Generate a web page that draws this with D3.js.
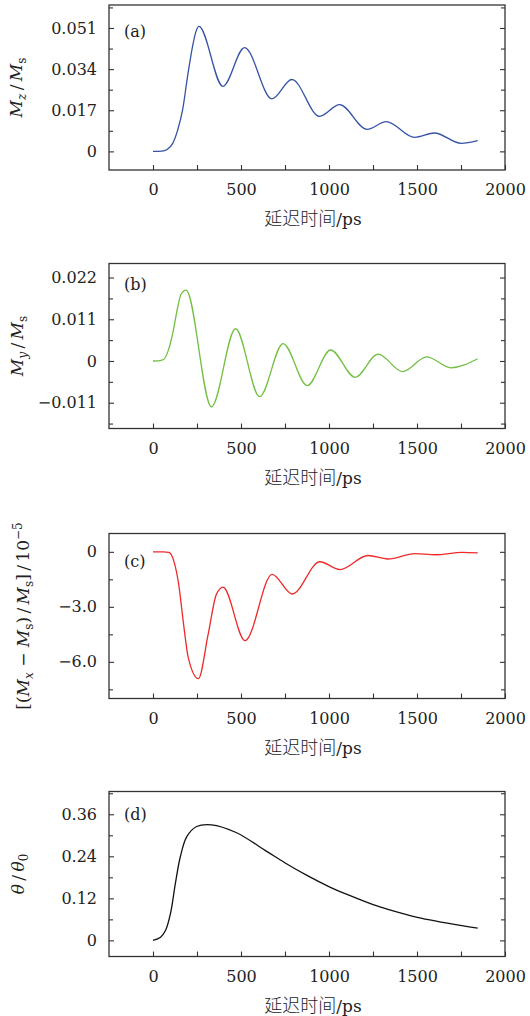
<!DOCTYPE html>
<html>
<head>
<meta charset="utf-8">
<script src="https://cdn.jsdelivr.net/npm/d3@7"></script>
<style>
  body { margin: 0; background: #fff; }
  svg text { fill: #222; }
</style>
</head>
<body>
<div id="chart"></div>
<script>
// shared time axis, ps
const xTickValues = [0, 250, 500, 750, 1000, 1250, 1500, 1750, 2000];

// (a) Mz/Ms
const timeA = [0, 50, 80, 112, 140, 168, 196, 224, 243, 261, 397, 520, 676, 789, 946, 1060, 1217, 1325, 1486, 1599, 1751, 1845];
const valueA = [0, 0.0001, 0.0008, 0.0033, 0.0088, 0.017, 0.0308, 0.0431, 0.0493, 0.0517, 0.0269, 0.0429, 0.0217, 0.0297, 0.0145, 0.0193, 0.0091, 0.0123, 0.0058, 0.0076, 0.0033, 0.0044];
const yTicksA = [0, 0.017, 0.034, 0.051];
const yLabelsA = ["0", "0.017", "0.034", "0.051"];

// (b) My/Ms
const timeB = [0, 30, 60, 84, 112, 141, 159, 188, 332, 469, 606, 739, 876, 1009, 1149, 1279, 1418, 1555, 1693, 1845];
const valueB = [0, 0.00005, 0.0004, 0.0024, 0.0073, 0.0143, 0.0176, 0.0187, -0.0121, 0.0085, -0.0094, 0.0046, -0.0065, 0.0029, -0.0043, 0.0018, -0.0028, 0.0011, -0.0018, 0.0006];
const yTicksB = [-0.011, 0, 0.011, 0.022];
const yLabelsB = ["\u22120.011", "0", "0.011", "0.022"];

// (c) (Mx - Ms)/Ms, units of 1e-5
const timeC = [0, 60, 90, 118, 146, 174, 201, 258, 313, 360, 398, 523, 677, 791, 948, 1063, 1221, 1335, 1488, 1604, 1756, 1845];
const valueC = [0, 0, -0.03, -0.49, -1.77, -3.97, -5.8, -6.92, -4.52, -2.32, -1.92, -4.84, -1.23, -2.3, -0.54, -0.97, -0.2, -0.39, -0.1, -0.16, -0.03, -0.06];
const yTicksC = [-6, -3, 0];
const yLabelsC = ["\u22126.0", "\u22123.0", "0"];

// (d) theta/theta0
const timeD = [0, 43, 71, 99, 127, 155, 192, 248, 332, 472, 646, 751, 880, 1002, 1113, 1251, 1340, 1502, 1755, 1845];
const valueD = [0, 0.009, 0.028, 0.076, 0.162, 0.238, 0.296, 0.325, 0.330, 0.308, 0.254, 0.221, 0.184, 0.153, 0.129, 0.102, 0.088, 0.066, 0.042, 0.035];
const yTicksD = [0, 0.12, 0.24, 0.36];
const yLabelsD = ["0", "0.12", "0.24", "0.36"];

const xTitle = "延迟时间";

const W = 530, H = 1016;
const left = 109, right = 505, ph = 165;
const serif = "'DejaVu Serif', serif";

const svg = d3.select("#chart").append("svg")
    .attr("width", W).attr("height", H);

const x = d3.scaleLinear().domain([-250, 2000]).range([left, right]);

const panels = [
    {tag: "(a)", t: timeA, v: valueA, ticks: yTicksA, labels: yLabelsA, minor: 0.0085,
     domain: [-0.0077, 0.0605], top: 5, color: "#3552a6", tagY: 37, labX: 22, curve: d3.curveMonotoneX,
     ylab: [["M", "i"], ["z", "isub"], ["\u2009/\u2009", ""], ["M", "i"], ["s", "sub"]]},
    {tag: "(b)", t: timeB, v: valueB, ticks: yTicksB, labels: yLabelsB, minor: 0.0055,
     domain: [-0.0178, 0.0257], top: 263.5, color: "#72c043", tagY: 290, labX: 23, curve: d3.curveMonotoneX,
     ylab: [["M", "i"], ["y", "isub"], ["\u2009/\u2009", ""], ["M", "i"], ["s", "sub"]]},
    {tag: "(c)", t: timeC, v: valueC, ticks: yTicksC, labels: yLabelsC, minor: 1.5,
     domain: [-8, 1], top: 533.5, color: "#ee2a2a", tagY: 567, labX: 29, curve: d3.curveMonotoneX,
     ylab: [["[(", ""], ["M", "i"], ["x", "isub"], [" \u2212 ", ""], ["M", "i"], ["s", "sub"],
            [")\u2009/\u2009", ""], ["M", "i"], ["s", "sub"], ["]\u2009/\u200910", ""], ["\u22125", "sup"]]},
    {tag: "(d)", t: timeD, v: valueD, ticks: yTicksD, labels: yLabelsD, minor: 0.06,
     domain: [-0.046, 0.425], top: 791.5, color: "#111", tagY: 819.5, labX: 24, curve: d3.curveCatmullRom.alpha(0.5),
     ylab: [["\u03b8", "i"], ["\u2009/\u2009", ""], ["\u03b8", "i"], ["0", "sub"]]}
];

panels.forEach(drawPanel);

function drawPanel(p) {
    const bottom = p.top + ph;
    const y = d3.scaleLinear().domain(p.domain).range([bottom, p.top]);
    const g = svg.append("g");

    // minor y ticks (half steps)
    const minors = d3.range(Math.ceil(p.domain[0] / p.minor), Math.floor(p.domain[1] / p.minor) + 1)
        .map(k => k * p.minor)
        .filter(d => !p.ticks.some(t => Math.abs(t - d) < p.minor / 10));

    g.append("g").attr("transform", `translate(${left},0)`)
        .call(d3.axisLeft(y).tickValues(p.ticks).tickSize(-5).tickPadding(12).tickFormat((d, i) => p.labels[i]));
    g.append("g").attr("transform", `translate(${left},0)`)
        .call(d3.axisLeft(y).tickValues(minors).tickSize(-4).tickFormat(""));
    g.append("g").attr("transform", `translate(${right},0)`)
        .call(d3.axisRight(y).tickValues(p.ticks).tickSize(-5).tickFormat(""));
    g.append("g").attr("transform", `translate(${right},0)`)
        .call(d3.axisRight(y).tickValues(minors).tickSize(-4).tickFormat(""));
    g.append("g").attr("transform", `translate(0,${bottom})`)
        .call(d3.axisBottom(x).tickValues(xTickValues).tickSize(-5).tickPadding(14)
            .tickFormat(d => d % 500 === 0 ? d : ""));

    g.selectAll(".domain").remove();
    g.selectAll(".tick line").attr("stroke", "#333").attr("stroke-width", 1.1);
    g.selectAll(".tick text").attr("font-family", serif).attr("font-size", 16).attr("fill", "#222");

    // frame
    g.append("rect")
        .attr("x", left).attr("y", p.top)
        .attr("width", right - left).attr("height", ph)
        .attr("fill", "none").attr("stroke", "#333").attr("stroke-width", 1.3);

    // curve
    const line = d3.line()
        .x(d => x(d[0]))
        .y(d => y(d[1]))
        .curve(p.curve);
    g.append("path")
        .datum(d3.zip(p.t, p.v))
        .attr("d", line)
        .attr("fill", "none")
        .attr("stroke", p.color)
        .attr("stroke-width", 1.3);

    // panel tag
    g.append("text")
        .attr("x", 124).attr("y", p.tagY)
        .attr("font-family", serif).attr("font-size", 16)
        .text(p.tag);

    // x title
    const xt = g.append("text")
        .attr("x", 313).attr("y", bottom + 55)
        .attr("text-anchor", "middle")
        .attr("font-size", 18);
    xt.append("tspan").attr("font-family", "'Noto Sans CJK SC'").attr("font-weight", 300).text(xTitle);
    xt.append("tspan").attr("font-family", serif).attr("font-size", 17).text("/ps");

    // y title
    const yt = g.append("text")
        .attr("transform", `translate(${p.labX},${p.top + ph / 2}) rotate(-90)`)
        .attr("text-anchor", "middle")
        .attr("font-family", serif)
        .attr("font-size", 17);
    let shift = 0;
    p.ylab.forEach(([s, kind]) => {
        const ts = yt.append("tspan").text(s);
        let target = 0;
        if (kind.startsWith("i")) ts.attr("font-style", "italic");
        if (kind.endsWith("sub")) { target = 4; ts.attr("font-size", 12); }
        if (kind === "sup") { target = -7; ts.attr("font-size", 12); }
        if (target !== shift) { ts.attr("dy", target - shift); shift = target; }
    });
}
</script>
</body>
</html>
